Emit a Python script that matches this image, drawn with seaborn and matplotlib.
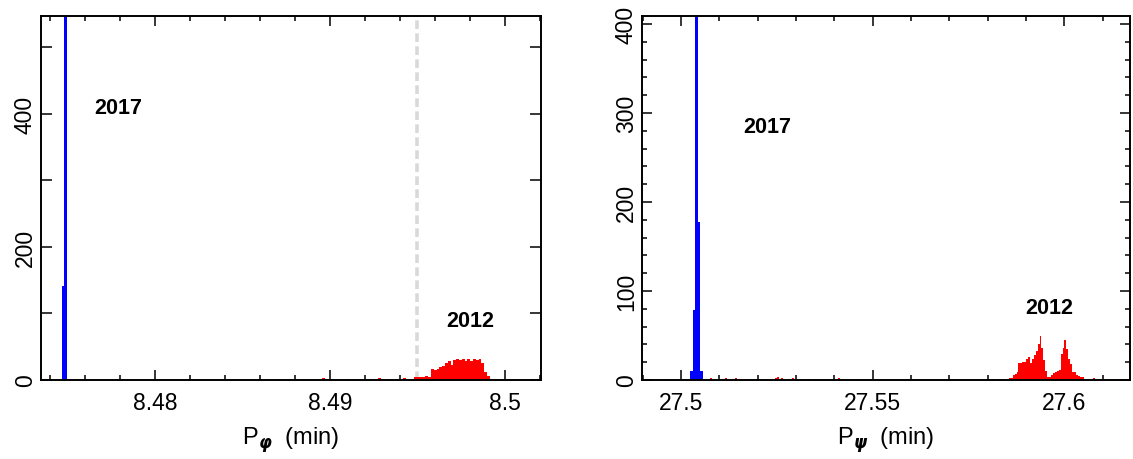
import numpy as np
import matplotlib
matplotlib.use("Agg")
import matplotlib.pyplot as plt
import seaborn as sns
from matplotlib.ticker import MultipleLocator, FuncFormatter

# ---------------- data ----------------
# Left panel: P_phi (min)
phi_blue_start = 8.47467
phi_bin = 0.00016
phi_blue_counts = [142, 545, 2]

phi_red_start = 8.48554
phi_red_nbins = 88
phi_noise_x = [8.48600, 8.48703, 8.48766, 8.48795, 8.48846, 8.48903, 8.48960, 8.48978,
               8.49006, 8.49103, 8.49172, 8.49275, 8.49292, 8.49338, 8.49383, 8.49418,
               8.49452, 8.49475]
phi_noise_counts = [1, 1, 1, 1, 1, 1, 3, 2, 1, 2, 1, 3, 1, 1, 1, 3, 1, 2]
phi_peak_start = 8.49482
phi_peak_counts = [4, 5, 5, 5, 6, 5, 16, 15, 17, 19, 21, 25, 28, 23, 30, 32, 30, 32,
                   29, 31, 28, 32, 30, 31, 26, 12, 6, 2, 2, 1]
phi_dash = 8.495

# Right panel: P_psi (min)
psi_blue_start = 27.50235
psi_blue_bin = 0.00065
psi_blue_counts = [10, 79, 408, 177, 10]

psi_bin = 0.0005
psi_red_start = 27.4955
psi_red_nbins = 228
psi_noise_x = [27.4966, 27.4984, 27.5063, 27.5076, 27.5089, 27.5115, 27.5141, 27.5159,
               27.5172, 27.5185, 27.5206, 27.5232, 27.5245, 27.5253, 27.5261, 27.5290,
               27.5297, 27.5331, 27.5350, 27.5370, 27.5402, 27.5410, 27.5428, 27.5477,
               27.5796, 27.5814]
psi_noise_counts = [1, 1, 1, 2, 1, 2, 2, 1, 1, 1, 1, 1, 2, 3, 2, 2, 1, 1, 1, 1, 1, 2,
                    1, 1, 1, 1]
psi_peak_start = 27.58322
psi_peak_counts = [1, 1, 0, 0, 0, 2, 2, 6, 7, 9, 19, 19, 20, 20, 24, 26, 19, 24, 28, 33,
                   40, 49, 36, 23, 10, 3, 3, 6, 8, 9, 10, 11, 29, 36, 45, 35, 24, 18, 9, 9,
                   6, 4, 3, 3, 1, 1, 0, 0, 0, 2, 0, 0]

labels_year = ["2017", "2012"]

# ---------------- style ----------------
sns.set_style("white")
plt.rcParams['font.family'] = ['Liberation Sans', 'DejaVu Sans']
plt.rcParams['mathtext.fontset'] = 'custom'
plt.rcParams['mathtext.rm'] = 'Liberation Sans'
plt.rcParams['mathtext.bf'] = 'DejaVu Sans:italic:bold'
for k in ('text.color', 'axes.labelcolor', 'xtick.color', 'ytick.color'):
    plt.rcParams[k] = 'black'

fig = plt.figure(figsize=(11.33, 4.60), dpi=100)
ax1 = fig.add_axes([41/1133, 79/460, 500/1133, 364/460])
ax2 = fig.add_axes([642/1133, 79/460, 488/1133, 364/460])


def centers(start, width, n):
    return [start + width * (i + 0.5) for i in range(n)]


def edges(start, width, n):
    return [start + width * i for i in range(n + 1)]


# ---- left panel ----
nb = len(phi_blue_counts)
sns.histplot(x=centers(phi_blue_start, phi_bin, nb), weights=phi_blue_counts,
             bins=edges(phi_blue_start, phi_bin, nb),
             color='#0000ff', alpha=1, linewidth=0, ax=ax1)
red_x = phi_noise_x + centers(phi_peak_start, phi_bin, len(phi_peak_counts))
red_w = phi_noise_counts + phi_peak_counts
sns.histplot(x=red_x, weights=red_w, bins=edges(phi_red_start, phi_bin, phi_red_nbins),
             color='#ff0000', alpha=1, linewidth=0, ax=ax1)
ax1.axvline(phi_dash, color='#d9d9d9', lw=2.6, ls=(0, (2.4, 1.2)), zorder=0)
ax1.set_xlim(8.47349, 8.50206)
ax1.set_ylim(0, 547)
ax1.xaxis.set_major_locator(MultipleLocator(0.01))
ax1.xaxis.set_minor_locator(MultipleLocator(0.002))
ax1.xaxis.set_major_formatter(FuncFormatter(lambda v, p: f"{v:.3f}".rstrip('0')))
ax1.yaxis.set_major_locator(MultipleLocator(100))
ax1.yaxis.set_major_formatter(FuncFormatter(
    lambda v, p: f"{int(round(v))}" if int(round(v)) % 200 == 0 else ""))
ax1.set_xlabel(r'P$_{\mathbf{\varphi}}$  (min)', fontsize=17, labelpad=7)

# ---- right panel ----
nb = len(psi_blue_counts)
sns.histplot(x=centers(psi_blue_start, psi_blue_bin, nb), weights=psi_blue_counts,
             bins=edges(psi_blue_start, psi_blue_bin, nb),
             color='#0000ff', alpha=1, linewidth=0, ax=ax2)
red_x = psi_noise_x + centers(psi_peak_start, psi_bin, len(psi_peak_counts))
red_w = psi_noise_counts + psi_peak_counts
sns.histplot(x=red_x, weights=red_w, bins=edges(psi_red_start, psi_bin, psi_red_nbins),
             color='#ff0000', alpha=1, linewidth=0, ax=ax2)
ax2.set_xlim(27.4898, 27.6171)
ax2.set_ylim(0, 409)
ax2.xaxis.set_major_locator(MultipleLocator(0.05))
ax2.xaxis.set_minor_locator(MultipleLocator(0.01))
ax2.xaxis.set_major_formatter(FuncFormatter(lambda v, p: f"{v:.2f}".rstrip('0')))
ax2.yaxis.set_major_locator(MultipleLocator(100))
ax2.yaxis.set_minor_locator(MultipleLocator(20))
ax2.set_xlabel(r'P$_{\mathbf{\psi}}$  (min)', fontsize=17, labelpad=7)

# year labels (data coordinates)
year_kw = dict(fontsize=15.5, fontweight='bold', family='Liberation Sans',
               ha='center', va='center', color='black')
ax1.text(8.47789, 409, labels_year[0], **year_kw)
ax1.text(8.49800, 90, labels_year[1], **year_kw)
ax2.text(27.52244, 285, labels_year[0], **year_kw)
ax2.text(27.59600, 81, labels_year[1], **year_kw)

for ax in (ax1, ax2):
    ax.set_ylabel('')
    for s in ax.spines.values():
        s.set_linewidth(1.4)
        s.set_color('black')
    ax.tick_params(which='both', direction='in', top=True, right=True,
                   bottom=True, left=True, width=1.1, color='black')
    ax.tick_params(which='major', length=7, labelsize=16.5, pad=8)
    ax.tick_params(which='minor', length=3.5)
    for lab in ax.get_yticklabels():
        lab.set_rotation(90)
        lab.set_va('center')
    ax.tick_params(axis='y', pad=3)
    ax.set_facecolor('white')

ax1.tick_params(axis='y', which='major', length=8)

fig.savefig('out.png', dpi=100, facecolor='white')
